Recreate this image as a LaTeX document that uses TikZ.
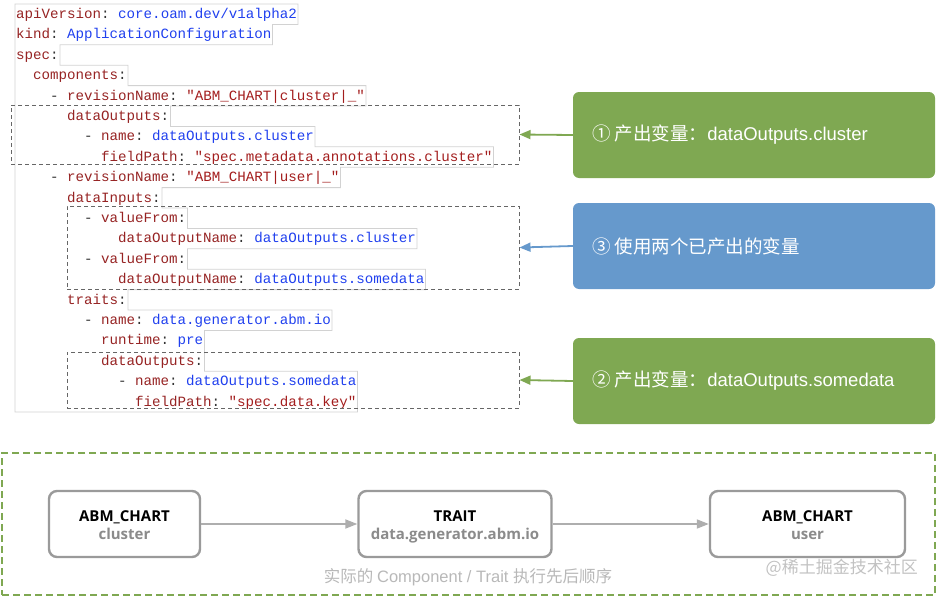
\documentclass[tikz,border=0pt]{standalone}
\usepackage{fontspec}
\setmonofont{Liberation Mono}
\newfontfamily\cjk{Noto Sans CJK SC}
\newfontfamily\lsans{Liberation Sans}
\newfontfamily\nfont{Open Sans}
\usetikzlibrary{arrows.meta}
\definecolor{keyc}{HTML}{962323}
\definecolor{strc}{HTML}{A31D1D}
\definecolor{valc}{HTML}{2040EE}
\definecolor{punc}{HTML}{333333}
\definecolor{gbox}{HTML}{7FA852}
\definecolor{bbox}{HTML}{6699CC}
\definecolor{dashc}{HTML}{666666}
\definecolor{selc}{HTML}{D2D2D2}
\definecolor{ngray}{HTML}{9A9A9A}
\newcommand{\K}[1]{{\color{keyc}#1}}
\newcommand{\V}[1]{{\color{valc}#1}}
\newcommand{\St}[1]{{\color{strc}\char34\relax #1\char34\relax}}
\newcommand{\Cl}{{\color{punc}:}}
\newcommand{\Ds}{{\color{punc}-}}
\tikzset{
  code/.style={anchor=base west, inner sep=0pt, font=\ttfamily\fontsize{14.17}{17}\selectfont},
  dbox/.style={draw=dashc, dash pattern=on 4pt off 3pt, line width=1pt, inner sep=0pt},
  note/.style={rounded corners=6pt, inner sep=0pt, minimum width=362pt, minimum height=86pt,
     text=white, font=\fontsize{18}{22}\selectfont},
  notetext/.style={anchor=west, text=white, inner sep=0pt, font=\fontsize{18.5}{22}\selectfont},
  flow/.style={draw=ngray, rounded corners=8pt, line width=2.4pt, fill=white,
     minimum height=66pt, inner sep=0pt},
  flowtext/.style={align=center, inner sep=0pt, yshift=-3pt, font=\nfont\fontsize{15}{19}\selectfont},
  flowarrow/.style={draw=ngray!80, line width=1.8pt, -{Triangle[length=12pt,width=9pt]}},
  notearrow/.style={line width=1.8pt, -{Triangle[length=11pt,width=9pt]}},
}
\newcommand{\codeline}[3]{\node[code] (l#1) at ({16+8.5*#2},{4+20.4*(#1-1)+14.5}) {#3};}
\begin{document}
\begin{tikzpicture}[x=1pt,y=-1pt]
\useasboundingbox (0,0) rectangle (937,597);
% selection outline of the code
\draw[selc, line width=0.8pt] (15,412) -- (15,4)
  foreach \n [count=\i] in {33,30,5,13,41,18,35,56,38,17,20,47,20,48,13,37,22,22,40,40}
  { -- ({17.5+8.5*\n},{4+20.4*(\i-1)}) -- ({17.5+8.5*\n},{4+20.4*\i}) } -- cycle;
% code lines
\codeline{1}{0}{\K{apiVersion}\Cl{} \V{core.oam.dev/v1alpha2}}
\codeline{2}{0}{\K{kind}\Cl{} \V{ApplicationConfiguration}}
\codeline{3}{0}{\K{spec}\Cl}
\codeline{4}{2}{\K{components}\Cl}
\codeline{5}{4}{\Ds{} \K{revisionName}\Cl{} \St{ABM\_CHART|cluster|\_}}
\codeline{6}{6}{\K{dataOutputs}\Cl}
\codeline{7}{8}{\Ds{} \K{name}\Cl{} \V{dataOutputs.cluster}}
\codeline{8}{10}{\K{fieldPath}\Cl{} \St{spec.metadata.annotations.cluster}}
\codeline{9}{4}{\Ds{} \K{revisionName}\Cl{} \St{ABM\_CHART|user|\_}}
\codeline{10}{6}{\K{dataInputs}\Cl}
\codeline{11}{8}{\Ds{} \K{valueFrom}\Cl}
\codeline{12}{12}{\K{dataOutputName}\Cl{} \V{dataOutputs.cluster}}
\codeline{13}{8}{\Ds{} \K{valueFrom}\Cl}
\codeline{14}{12}{\K{dataOutputName}\Cl{} \V{dataOutputs.somedata}}
\codeline{15}{6}{\K{traits}\Cl}
\codeline{16}{8}{\Ds{} \K{name}\Cl{} \V{data.generator.abm.io}}
\codeline{17}{10}{\K{runtime}\Cl{} \V{pre}}
\codeline{18}{10}{\K{dataOutputs}\Cl}
\codeline{19}{12}{\Ds{} \K{name}\Cl{} \V{dataOutputs.somedata}}
\codeline{20}{14}{\K{fieldPath}\Cl{} \St{spec.data.key}}
% dashed highlight boxes
\node[dbox, minimum width=508pt, minimum height=59pt] (d1) at (265,134.5) {};
\node[dbox, minimum width=452pt, minimum height=83pt] (d2) at (293,247.5) {};
\node[dbox, minimum width=452pt, minimum height=56pt] (d3) at (293,380) {};
% notes
\node[note, fill=gbox] (g1) at (754,135) {};
\node[note, fill=bbox] (b3) at (754,246) {};
\node[note, fill=gbox] (g2) at (754,381) {};
\node[notetext] (t1) at (592,135) {{\cjk ① 产出变量：}{\lsans dataOutputs.cluster}};
\node[notetext] (t3) at (592,246) {{\cjk ③ 使用两个已产出的变量}};
\node[notetext] (t2) at (592,381) {{\cjk ② 产出变量：}{\lsans dataOutputs.somedata}};
\draw[notearrow, gbox] (g1.west) -- (d1.east);
\draw[notearrow, bbox] (b3.west) -- (d2.east);
\draw[notearrow, gbox] (g2.west) -- (d3.east);
% bottom frame
\node[draw=gbox, line width=2pt, dash pattern=on 7pt off 4pt, minimum width=933pt,
  minimum height=142pt, inner sep=0pt] (frame) at (468.5,524) {};
\node[flow, minimum width=151pt] (n1) at (124.5,524) {};
\node[flow, minimum width=193pt] (n2) at (455,524) {};
\node[flow, minimum width=195pt] (n3) at (807.5,524) {};
\node[flowtext] (n1t) at (n1.center) {\textbf{ABM\_CHART}\\[-1pt]{\color{ngray!90!black}\bfseries cluster\vphantom{g}}};
\node[flowtext] (n2t) at (n2.center) {\textbf{TRAIT}\\[-1pt]{\color{ngray!90!black}\bfseries data.generator.abm.io}};
\node[flowtext] (n3t) at (n3.center) {\textbf{ABM\_CHART}\\[-1pt]{\color{ngray!90!black}\bfseries user\vphantom{g}}};
\draw[flowarrow] (n1.east) -- (n2.west);
\draw[flowarrow] (n2.east) -- (n3.west);
\node[text=ngray!70, inner sep=0pt, font=\fontsize{16.5}{19}\selectfont] (cap) at (468,577)
  {{\cjk 实际的 }{\lsans Component / Trait }{\cjk 执行先后顺序}};
\node[text=ngray!60, inner sep=0pt, anchor=east, font=\cjk\fontsize{17}{20}\selectfont] (wm) at (918,568) {@稀土掘金技术社区};
\end{tikzpicture}
\end{document}
